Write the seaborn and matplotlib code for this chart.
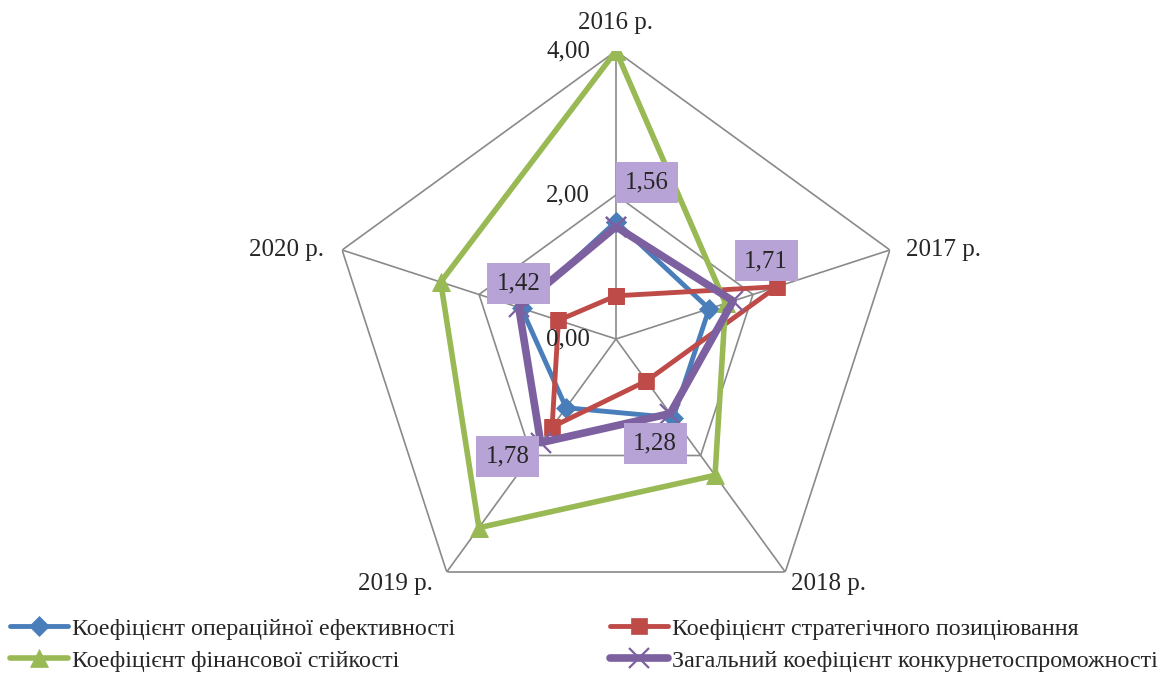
import numpy as np
import matplotlib
matplotlib.use("Agg")
import matplotlib.pyplot as plt
import seaborn as sns

# Data
years = ["2016 р.", "2017 р.", "2018 р.", "2019 р.", "2020 р."]
operational = [1.63, 1.36, 1.35, 1.18, 1.38]
strategic = [0.60, 2.35, 0.72, 1.51, 0.84]
financial = [4.00, 1.60, 2.34, 3.24, 2.56]
overall = [1.56, 1.71, 1.28, 1.78, 1.42]
ring_values = [0.0, 2.0, 4.0]
ring_labels = ["0,00", "2,00", "4,00"]
overall_labels = ["1,56", "1,71", "1,28", "1,78", "1,42"]
series_names = [
    "Коефіцієнт операційної ефективності",
    "Коефіцієнт стратегічного позиціювання",
    "Коефіцієнт фінансової стійкості",
    "Загальний коефіцієнт конкурнетоспроможності",
]

sns.set_theme(style="white")
plt.rcParams["font.family"] = ["Liberation Serif", "DejaVu Serif"]

W, H = 1169, 675
fig = plt.figure(figsize=(W / 100, H / 100), dpi=100)
cx, cy, R = 616, 339, 288
ax = fig.add_axes([(cx - R) / W, (H - cy - R) / H, 2 * R / W, 2 * R / H],
                  projection="polar")
ax.set_theta_zero_location("N")
ax.set_theta_direction(-1)
ax.set_ylim(0, 4)
ax.grid(False)
ax.set_xticks([])
ax.set_yticks([])
ax.spines["polar"].set_visible(False)
ax.set_facecolor("none")

n = len(years)
theta = np.arange(n) * 2 * np.pi / n
theta_c = np.append(theta, 2 * np.pi)

grid_col = "#8a8a8a"
for rv in ring_values[1:]:
    ax.plot(theta_c, [rv] * (n + 1), color=grid_col, lw=1.2, zorder=1)
for t in theta:
    ax.plot([t, t], [0, ring_values[-1]], color=grid_col, lw=1.2, zorder=1)

def closed(v):
    return list(v) + [v[0]]

styles = [
    (operational, "#4a7ebb", "D", 10, 3.5, 1.0),
    (strategic, "#be4b48", "s", 12, 3.5, 1.0),
    (financial, "#98b954", "^", 13, 4.0, 1.0),
    (overall, "#7d60a0", "x", 15, 5.5, 1.6),
]
handles = []
for i, (vals, col, mk, ms, lw, mew) in enumerate(styles):
    sns.lineplot(x=theta_c, y=closed(vals), ax=ax, color=col, lw=lw,
                 marker=mk, markersize=ms, markeredgecolor=col,
                 markerfacecolor=col, markeredgewidth=mew if mk == "x" else 0.5,
                 sort=False, zorder=3 + i, label=series_names[i],
                 legend=False)
    handles.append(ax.lines[-1])
ax.set_xlabel("")
ax.set_ylabel("")

# ring value labels along the top spoke
for rv, lab in zip(ring_values, ring_labels):
    ax.annotate(lab, (0, rv), xytext=(-26, 0), textcoords="offset pixels",
                ha="right", va="center", fontsize=18, zorder=10)

# category labels
cat_off = [(0, 28, "center", "center"), (16, 0, "left", "center"),
           (6, -12, "left", "center"), (-14, -12, "right", "center"),
           (-18, 0, "right", "center")]
for t, lab, (dx, dy, ha, va) in zip(theta, years, cat_off):
    ax.annotate(lab, (t, 4.0), xytext=(dx, dy), textcoords="offset pixels",
                ha=ha, va=va, fontsize=18, annotation_clip=False)

# value labels for the overall coefficient
lab_off = [(31, 44), (33, 40), (-15, -30), (-33, -14), (0, 24)]
for t, v, lab, (dx, dy) in zip(theta, overall, overall_labels, lab_off):
    ax.annotate(lab, (t, v), xytext=(dx, dy), textcoords="offset pixels",
                ha="center", va="center", fontsize=18, zorder=20,
                bbox=dict(boxstyle="square,pad=0.38", fc="#b7a3d5", ec="none"))

# legend in two columns
fs = 17.3
fpx = fs * 100 / 72
leg_kw = dict(frameon=False, fontsize=fs, handlelength=58 / fpx,
              handletextpad=4 / fpx, labelspacing=0.42, borderpad=0,
              borderaxespad=0, loc="upper left")
l1 = fig.legend([handles[0], handles[2]], [series_names[0], series_names[2]],
                bbox_to_anchor=(10 / W, 1 - 618 / H), **leg_kw)
l2 = fig.legend([handles[1], handles[3]], [series_names[1], series_names[3]],
                bbox_to_anchor=(610 / W, 1 - 618 / H), **leg_kw)

fig.savefig("out.png", dpi=100, facecolor="white")
